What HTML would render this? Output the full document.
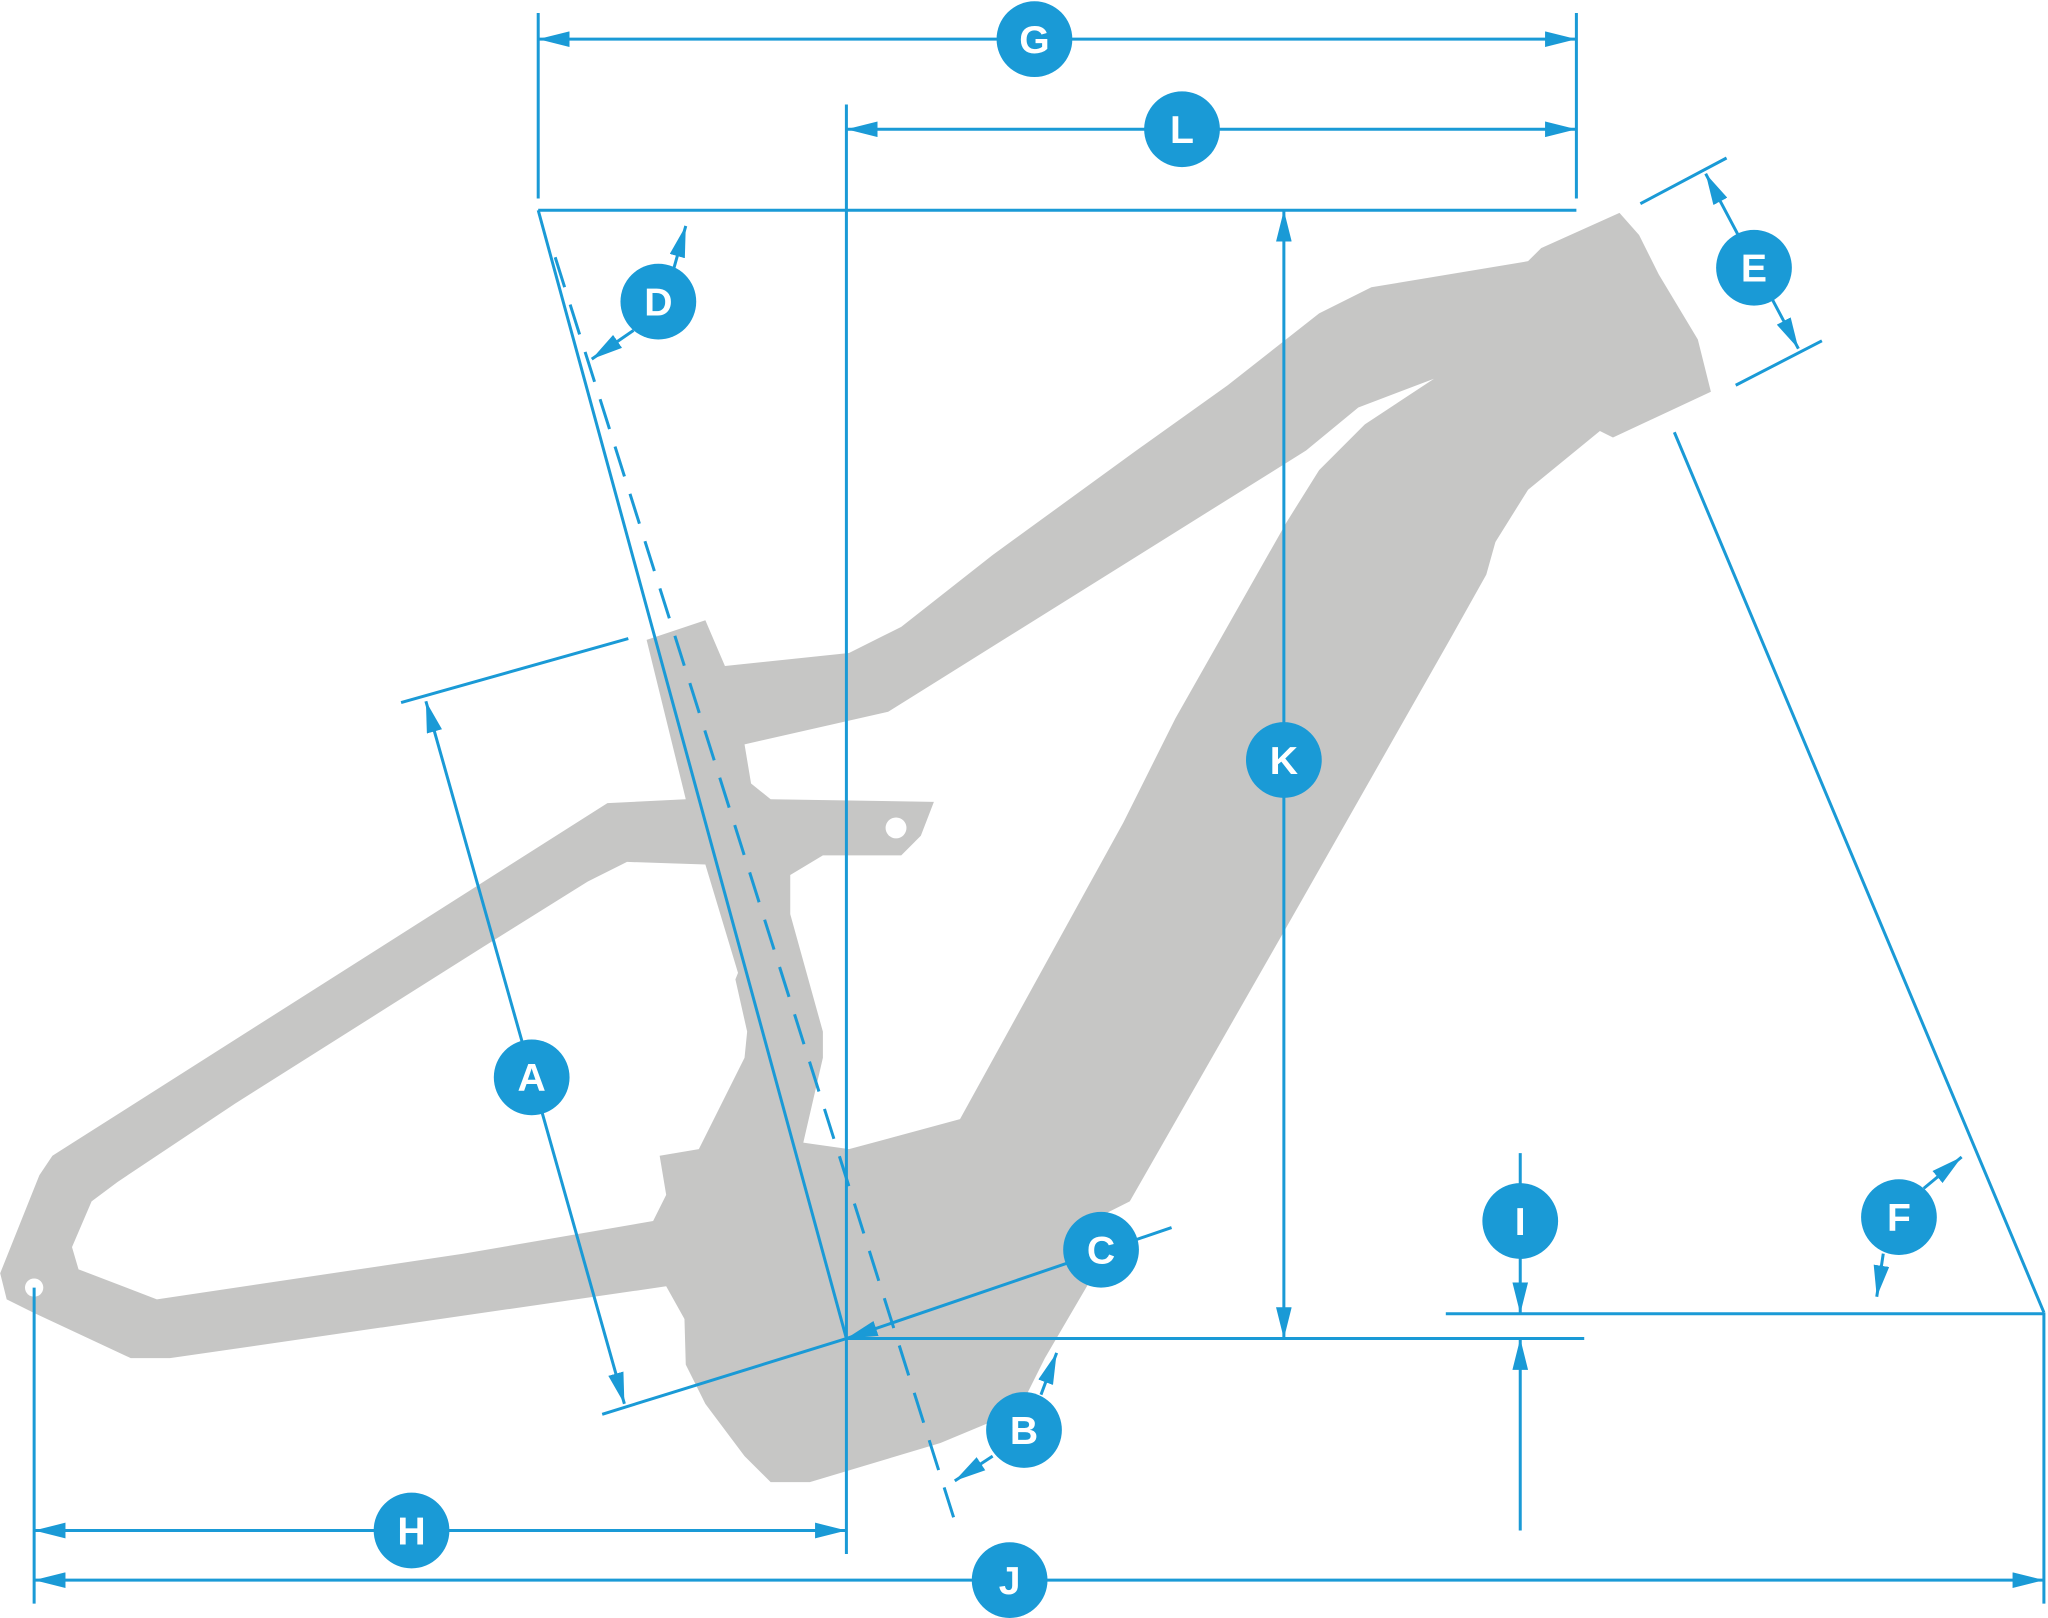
<!DOCTYPE html>
<html><head><meta charset="utf-8"><style>
html,body{margin:0;padding:0;background:#fff;}
svg{display:block;}
text{font-family:"Liberation Sans",sans-serif;font-weight:bold;fill:#fff;font-size:30px;text-anchor:middle;dominant-baseline:central;}
</style></head><body>
<svg width="2048" height="1618" viewBox="0 0 1568 1239" xmlns="http://www.w3.org/2000/svg">
<defs>
<marker id="a" viewBox="0 0 24 12" refX="24" refY="6" markerWidth="24" markerHeight="12" markerUnits="userSpaceOnUse" orient="auto-start-reverse">
<path d="M0,0 L24,6 L0,12 Z" fill="#1a9ad6"/></marker>
</defs>
<g fill="#c6c6c5">
<path d="M1240,163 L1255,180 L1270,210 L1300,260 L1310,300 L1235,335 L1225,330 L1170,375 L1145,415 L1138,440 L1110,490 L985,710 L965,745 L865,920 L845,930 L838,975 L800,1040 L780,1080 L720,1105 L620,1135 L590,1135 L570,1115 L540,1075 L525,1045 L524,1010 L510,985 L130,1040 L100,1040 L25,1005 L5,995 L0,975 L30,900 L40,885 L465,615 L525,612 L495,490 L540,475 L555,510 L650,500 L690,480 L760,425 L870,345 L940,295 L1010,240 L1050,220 L1170,200 L1180,190 Z"/>
</g>
<g fill="#fff">
<path d="M1098,290 L1040,312 L1000,345 L720,520 L680,545 L570,570 L575,600 L590,612 L715,614 L705,640 L690,655 L630,655 L605,670 L605,700 L630,790 L630,810 L615,875 L650,880 L735,857 L860,630 L900,550 L985,400 L1010,360 L1045,325 Z"/>
<path d="M480,660 L540,662 L565,745 L563,750 L572,790 L570,810 L535,880 L505,885 L510,915 L500,935 L355,960 L120,995 L60,972 L55,955 L70,920 L90,905 L180,845 L370,725 L450,675 Z"/>
<circle cx="26" cy="986" r="7"/><circle cx="686" cy="634" r="8"/>
</g>
<g stroke="#1a9ad6" stroke-width="2.3" fill="none">
<line x1="412" y1="10" x2="412" y2="152"/><line x1="1207" y1="10" x2="1207" y2="152"/>
<line x1="412" y1="30" x2="1207" y2="30" marker-start="url(#a)" marker-end="url(#a)"/>
<line x1="648" y1="80" x2="648" y2="1190"/>
<line x1="648" y1="99" x2="1207" y2="99" marker-start="url(#a)" marker-end="url(#a)"/>
<line x1="412" y1="161" x2="1207" y2="161"/>
<line x1="983" y1="161" x2="983" y2="1025" marker-start="url(#a)" marker-end="url(#a)"/>
<line x1="412" y1="161" x2="648" y2="1025"/>
<line x1="425" y1="197" x2="732" y2="1168" stroke-dasharray="24,14"/>
<line x1="516" y1="205" x2="525" y2="173" marker-end="url(#a)"/>
<line x1="485" y1="253" x2="453" y2="275" marker-end="url(#a)"/>
<line x1="307" y1="538" x2="481" y2="489"/>
<line x1="461" y1="1083" x2="648" y2="1025"/>
<line x1="326" y1="537" x2="478" y2="1075" marker-start="url(#a)" marker-end="url(#a)"/>
<line x1="648" y1="1025" x2="897" y2="940" marker-start="url(#a)"/>
<line x1="797" y1="1068" x2="809" y2="1036" marker-end="url(#a)"/>
<line x1="760" y1="1115" x2="731" y2="1134" marker-end="url(#a)"/>
<line x1="1256" y1="156" x2="1322" y2="121"/><line x1="1329" y1="295" x2="1395" y2="261"/>
<line x1="1306" y1="133" x2="1377" y2="267" marker-start="url(#a)" marker-end="url(#a)"/>
<line x1="1282" y1="331" x2="1565" y2="1005"/>
<line x1="1473" y1="910" x2="1502" y2="886" marker-end="url(#a)"/>
<line x1="1442" y1="960" x2="1437" y2="993" marker-end="url(#a)"/>
<line x1="1107" y1="1006" x2="1565" y2="1006"/>
<line x1="648" y1="1025" x2="1213" y2="1025"/>
<line x1="1164" y1="883" x2="1164" y2="1006" marker-end="url(#a)"/>
<line x1="1164" y1="1172" x2="1164" y2="1025" marker-end="url(#a)"/>
<line x1="1565" y1="1005" x2="1565" y2="1228"/>
<line x1="26" y1="986" x2="26" y2="1228"/>
<line x1="26" y1="1172" x2="648" y2="1172" marker-start="url(#a)" marker-end="url(#a)"/>
<line x1="26" y1="1210" x2="1565" y2="1210" marker-start="url(#a)" marker-end="url(#a)"/>
</g>
<g fill="#1a9ad6">
<circle cx="792" cy="30" r="29"/><circle cx="905" cy="99" r="29"/><circle cx="504" cy="231" r="29"/>
<circle cx="983" cy="582" r="29"/><circle cx="1343" cy="205" r="29"/><circle cx="407" cy="825" r="29"/>
<circle cx="843" cy="957" r="29"/><circle cx="784" cy="1095" r="29"/><circle cx="1164" cy="935" r="29"/>
<circle cx="1454" cy="932" r="29"/><circle cx="315" cy="1172" r="29"/><circle cx="773" cy="1210" r="29"/>
</g>
<text x="792" y="31">G</text><text x="905" y="100">L</text><text x="504" y="232">D</text>
<text x="983" y="583">K</text><text x="1343" y="206">E</text><text x="407" y="826">A</text>
<text x="843" y="958">C</text><text x="784" y="1096">B</text><text x="1164" y="936">I</text>
<text x="1454" y="933">F</text><text x="315" y="1173">H</text><text x="773" y="1211">J</text>
</svg>
</body></html>
